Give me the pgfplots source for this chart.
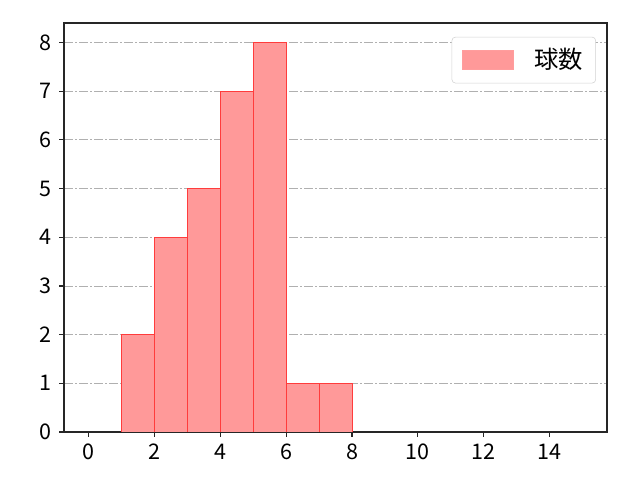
\documentclass[border=0pt]{standalone}
\usepackage{fontspec}
\setmainfont{Noto Sans CJK JP}
\usepackage{pgfplots}
\pgfplotsset{compat=1.18}
\definecolor{barfill}{RGB}{255,153,153}
\definecolor{barline}{RGB}{255,60,60}
\definecolor{gridgray}{RGB}{176,176,176}
\begin{document}
\begin{tikzpicture}
\fontsize{15.5pt}{18pt}\selectfont
\path[use as bounding box] (0,0) rectangle (460.8pt,345.6pt);
\begin{axis}[
    at={(46.08pt,34.56pt)}, anchor=south west,
    scale only axis,
    width=391pt, height=294.5pt,
    xmin=-0.75, xmax=15.75,
    ymin=0, ymax=8.4,
    xtick={0,2,...,14},
    ytick={0,1,...,8},
    tick align=outside,
    tick pos=left,
    major tick length=3.5pt,
    tick style={black!85, line width=0.9pt},
    axis line style={black!85, line width=1.1pt},
    ymajorgrids,
    grid style={gridgray, line width=0.6pt, dash pattern=on 6.4pt off 1.8pt on 0.8pt off 1.8pt},
    axis on top=false,
    /pgf/number format/assume math mode=true,
    ticklabel style={font=\fontsize{15.5pt}{18pt}\selectfont},
    legend style={at={(1,1)}, anchor=north east, xshift=-8pt, yshift=-10pt,
        draw=gray!35, rounded corners=2.5pt, font=\fontsize{17.5pt}{20pt}\selectfont,
        inner xsep=7pt, inner ysep=6pt},
    legend cell align=left,
    legend image code/.code={\draw[sharp corners, fill=barfill, draw=barline!50, line width=0.5pt] (0pt,-7pt) rectangle (37pt,7pt);},
]
\addplot[ybar interval, fill=barfill, draw=barline, line width=0.6pt] coordinates {
    (1,2) (2,4) (3,5) (4,7) (5,8) (6,1) (7,1) (8,1)
};
\addlegendentry{\hspace{13pt}球数}
\end{axis}
\end{tikzpicture}
\end{document}
